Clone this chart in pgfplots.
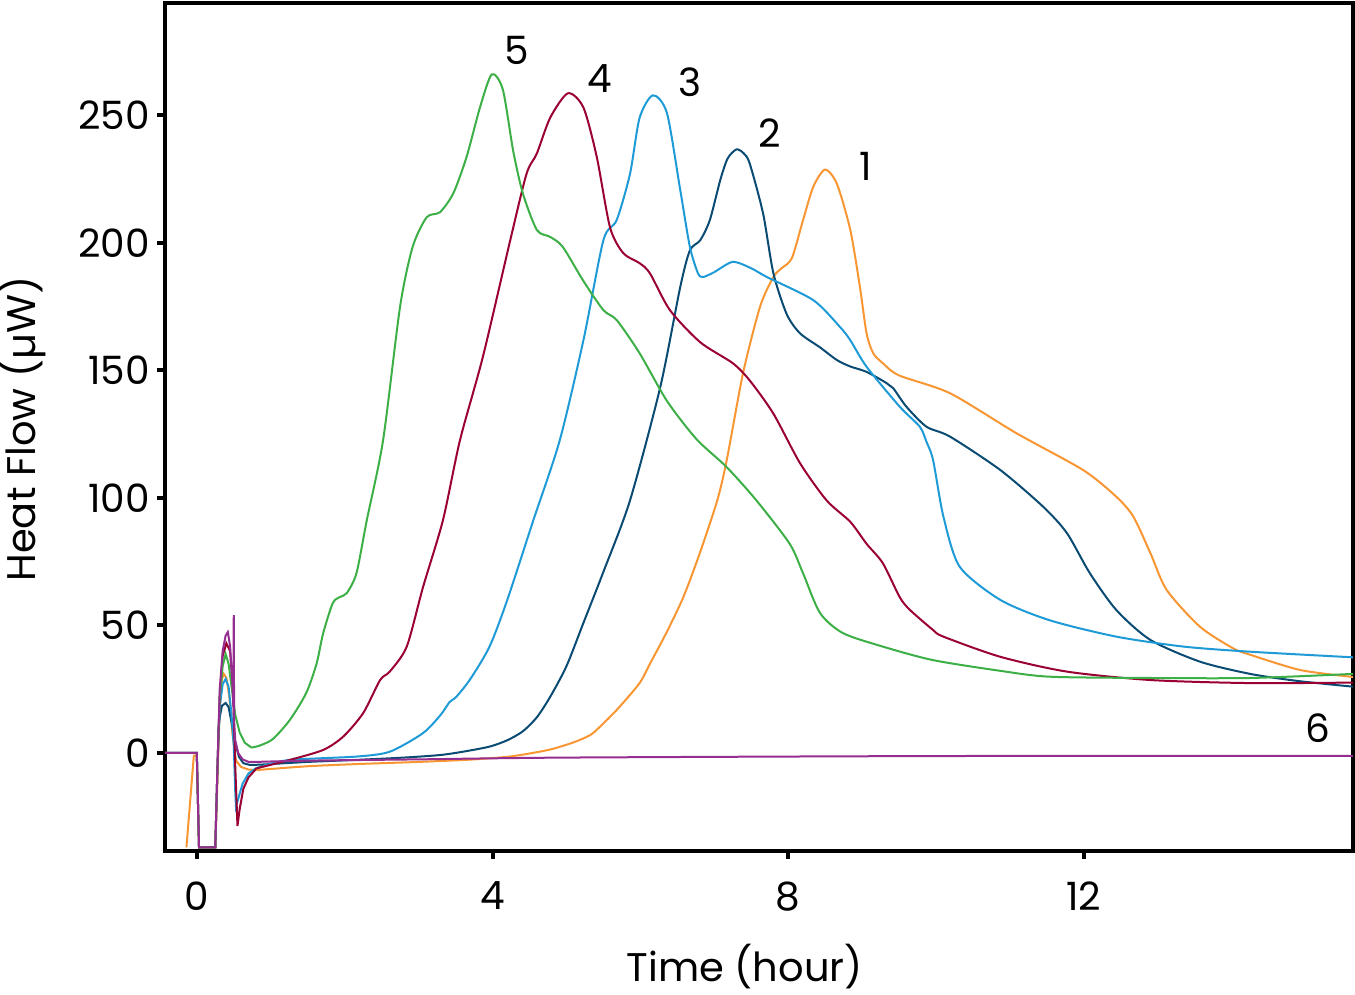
\documentclass[border=0pt]{standalone}
\usepackage{fontspec}
\setmainfont{Poppins}
\usepackage{pgfplots}
\pgfplotsset{compat=1.18}

\definecolor{cOne}{RGB}{247,150,50}
\definecolor{cTwo}{RGB}{10,75,115}
\definecolor{cThree}{RGB}{30,155,215}
\definecolor{cFour}{RGB}{155,0,50}
\definecolor{cFive}{RGB}{60,175,70}
\definecolor{cSix}{RGB}{150,45,145}

\begin{document}
\begin{tikzpicture}
\begin{axis}[
  scale only axis,
  width=594pt, height=424pt,
  xmin=-0.43, xmax=15.64,
  ymin=-38.4, ymax=294,
  axis line style={line width=2pt},
  xtick={0,4,8,12},
  ytick={0,50,100,150,200,250},
  tick align=outside,
  xtick pos=bottom, ytick pos=left,
  major tick length=4pt,
  tick style={line width=2pt, black},
  /pgf/number format/assume math mode=true,
  ticklabel style={font=\fontsize{19.5}{19.5}\selectfont},
  xticklabel style={yshift=-8pt},
  xlabel={Time (hour)},
  ylabel={Heat Flow (µW)},
  label style={font=\fontsize{20}{20}\selectfont},
  xlabel style={at={(axis description cs:0.488,-0.136)}, anchor=center},
  ylabel style={at={(axis description cs:-0.1204,0.4976)}, anchor=center},
  every axis plot/.append style={line width=1pt},
]

% spikes at the start, drawn sharp
\addplot[cOne] coordinates {
(-0.14,-37) (-0.04,-1) (0.0,-1) (0.03,-37) (0.25,-37) (0.28,-10) (0.31,18) (0.34,29) (0.365,31)
(0.40,29.5) (0.44,22) (0.48,8) (0.53,-3) (0.6,-5.5) (0.7,-6.5) (0.81,-6.7)
};
\addplot[cTwo] coordinates {
(0.29,8) (0.31,14) (0.34,18.5) (0.39,19.6) (0.43,18) (0.47,12) (0.52,4) (0.57,-1.5) (0.63,-4) (0.72,-4.7)
};
\addplot[cThree] coordinates {
(-0.43,0) (0.0,0) (0.03,-37) (0.25,-37) (0.28,-5) (0.31,18) (0.35,27) (0.39,29) (0.43,26) (0.47,15)
(0.5,3) (0.52,-15) (0.53,-21) (0.56,-18) (0.62,-12) (0.7,-8) (0.8,-6) (0.9,-5)
};
\addplot[cFour] coordinates {
(-0.43,0) (0.0,0) (0.03,-37) (0.25,-37) (0.28,-5) (0.31,22) (0.35,38) (0.40,43) (0.45,40) (0.49,25)
(0.52,-5) (0.55,-28.6) (0.58,-22) (0.63,-14) (0.7,-9.5) (0.81,-6)
};
\addplot[cFive] coordinates {
(-0.43,0) (0.0,0) (0.03,-37) (0.25,-37) (0.28,-5) (0.31,22) (0.35,34) (0.39,38.8) (0.43,35) (0.47,26)
(0.52,15) (0.58,8) (0.65,4) (0.74,2.1)
};
\addplot[cSix] coordinates {
(-0.43,0) (0.0,0) (0.03,-37) (0.25,-37) (0.28,-5) (0.31,25) (0.35,40) (0.39,46) (0.42,47.4) (0.45,42)
(0.48,28) (0.495,18) (0.50,54) (0.505,12) (0.52,5) (0.56,0) (0.62,-2.5) (0.7,-3.5) (0.8,-3.5)
};

% main curves
\addplot[cOne, smooth, tension=0.45] coordinates {
(0.81,-6.7) (1.5,-5.2) (2.2,-4.3) (3.0,-3.5) (3.7,-2.6) (4.2,-1.5) (4.5,-0.2)
(4.8,1.5) (5.1,4.2) (5.32,7) (5.45,10.2) (5.7,17.5) (5.99,27.4) (6.13,35) (6.35,47) (6.58,61)
(6.8,78) (7.04,99) (7.17,115) (7.39,149) (7.62,175) (7.80,186.6) (7.91,190) (8.05,194)
(8.2,208.8) (8.34,222) (8.50,228.7) (8.66,223) (8.84,205) (8.97,182.7) (9.06,164.5) (9.15,156.7)
(9.28,152.8) (9.5,148) (10.19,141) (11.09,125.3) (11.99,110.9) (12.44,100.4) (12.67,92.6)
(12.9,78.3) (13.12,63.9) (13.57,49.5) (14.02,41) (14.25,38.5) (14.93,32.5) (15.64,29.8)
};
\addplot[cTwo, smooth, tension=0.45] coordinates {
(0.72,-4.7) (0.9,-4.5) (1.5,-3.5)
(2.16,-2.7) (2.8,-1.8) (3.29,-0.8) (3.6,0.5) (3.96,2.5) (4.2,5) (4.41,8.5) (4.6,14) (4.78,22)
(5.0,34) (5.23,51) (5.5,71) (5.86,99) (6.27,143.5) (6.54,182.7) (6.67,197) (6.81,201) (6.94,208.9)
(7.08,224.5) (7.18,233) (7.30,236.6) (7.40,235) (7.48,231) (7.66,211.5) (7.80,188) (7.98,172)
(8.16,164.5) (8.43,159) (8.66,154) (8.84,151.5) (9.06,149.4) (9.33,145) (9.42,143) (9.60,135.7)
(9.87,127.9) (10.19,124) (10.87,110.9) (11.45,96.5) (11.77,86.2) (12.08,70.5) (12.44,56)
(12.9,44.3) (13.57,35.8) (14.25,31) (14.9,28.2) (15.64,26)
};
\addplot[cThree, smooth, tension=0.45] coordinates {
(0.9,-5) (1.26,-2.7) (2.16,-1.4) (2.61,0.5) (3.06,7.8) (3.3,15) (3.42,20)
(3.51,22) (3.7,29) (3.96,41.7) (4.2,60) (4.55,91) (4.91,122.6) (5.23,161.8) (5.50,201) (5.68,208.9)
(5.86,227) (5.99,249) (6.17,257.8) (6.36,250.8) (6.54,220.6) (6.67,198.4) (6.78,188) (6.85,186.6)
(7.0,188.5) (7.25,192.5) (7.5,190) (7.71,186.6) (8.34,177.5) (8.70,167) (8.84,161.8) (9.06,151.4)
(9.51,135.7) (9.78,127.9) (9.87,122) (9.96,114.8) (10.10,92.6) (10.32,73) (10.87,60) (11.54,52)
(12.44,45.6) (13.35,41.7) (14.25,39.7) (15.64,37.5)
};
\addplot[cFour, smooth, tension=0.45] coordinates {
(0.81,-6) (1.26,-2.7) (1.71,1.2) (1.98,6.4) (2.25,15.6) (2.48,28.6)
(2.61,31.9) (2.84,41.7) (3.06,65) (3.33,91.3) (3.56,122.6) (3.87,155.3) (4.24,201) (4.46,227)
(4.60,235) (4.78,249) (5.02,258.6) (5.23,253) (5.41,233.7) (5.59,206) (5.77,195.9) (5.99,192)
(6.13,188) (6.40,173.6) (6.81,161) (7.25,152.8) (7.48,146) (7.80,133) (8.16,113.6) (8.52,99)
(8.84,90.6) (9.06,82) (9.28,74.4) (9.51,61) (9.65,56) (9.96,48.2) (10.10,45.6) (10.87,37.7)
(11.77,31.9) (12.9,28.6) (14.25,27.4) (15.64,27.6)
};
\addplot[cFive, smooth, tension=0.45] coordinates {
(0.74,2.1) (0.86,3) (1.03,5.5) (1.26,13) (1.48,23.5) (1.62,35) (1.71,47) (1.84,58.8) (1.94,61.2)
(2.03,62.7) (2.16,70.5) (2.30,91.3) (2.52,122.6) (2.75,175) (2.92,198.4) (3.11,210) (3.29,212)
(3.47,219.4) (3.65,233.7) (3.83,253) (3.99,266) (4.14,260) (4.28,236) (4.41,219.4) (4.60,205)
(4.78,202.3) (4.95,198.4) (5.23,185) (5.50,173.6) (5.68,169.7) (5.99,156.7) (6.36,138) (6.76,123)
(7.17,112) (7.57,99) (8.02,82) (8.2,70.5) (8.43,54.9) (8.74,47) (9.28,41.7) (9.96,36.4)
(10.87,32.2) (11.54,29.9) (12.9,29.4) (14.25,29.4) (15.64,31)
};
\addplot[cSix, smooth, tension=0.45] coordinates {
(0.8,-3.5) (1.5,-3) (3,-2.5) (5,-1.8) (10,-1.2) (15.64,-1.1)
};

\node[font=\fontsize{19.5}{19.5}\selectfont] at (axis cs:4.33,275.5) {5};
\node[font=\fontsize{19.5}{19.5}\selectfont] at (axis cs:5.45,264.5) {4};
\node[font=\fontsize{19.5}{19.5}\selectfont] at (axis cs:6.67,263) {3};
\node[font=\fontsize{19.5}{19.5}\selectfont] at (axis cs:7.75,243) {2};
\node[font=\fontsize{19.5}{19.5}\selectfont] at (axis cs:9.05,230) {1};
\node[font=\fontsize{19.5}{19.5}\selectfont] at (axis cs:15.17,9.8) {6};

\coordinate (bbsw) at (rel axis cs:-0.1389,-0.1698);
\coordinate (bbne) at (rel axis cs:1.0017,1.0035);
\end{axis}
\pgfresetboundingbox
\path[use as bounding box] (bbsw) rectangle (bbne);
\end{tikzpicture}
\end{document}
